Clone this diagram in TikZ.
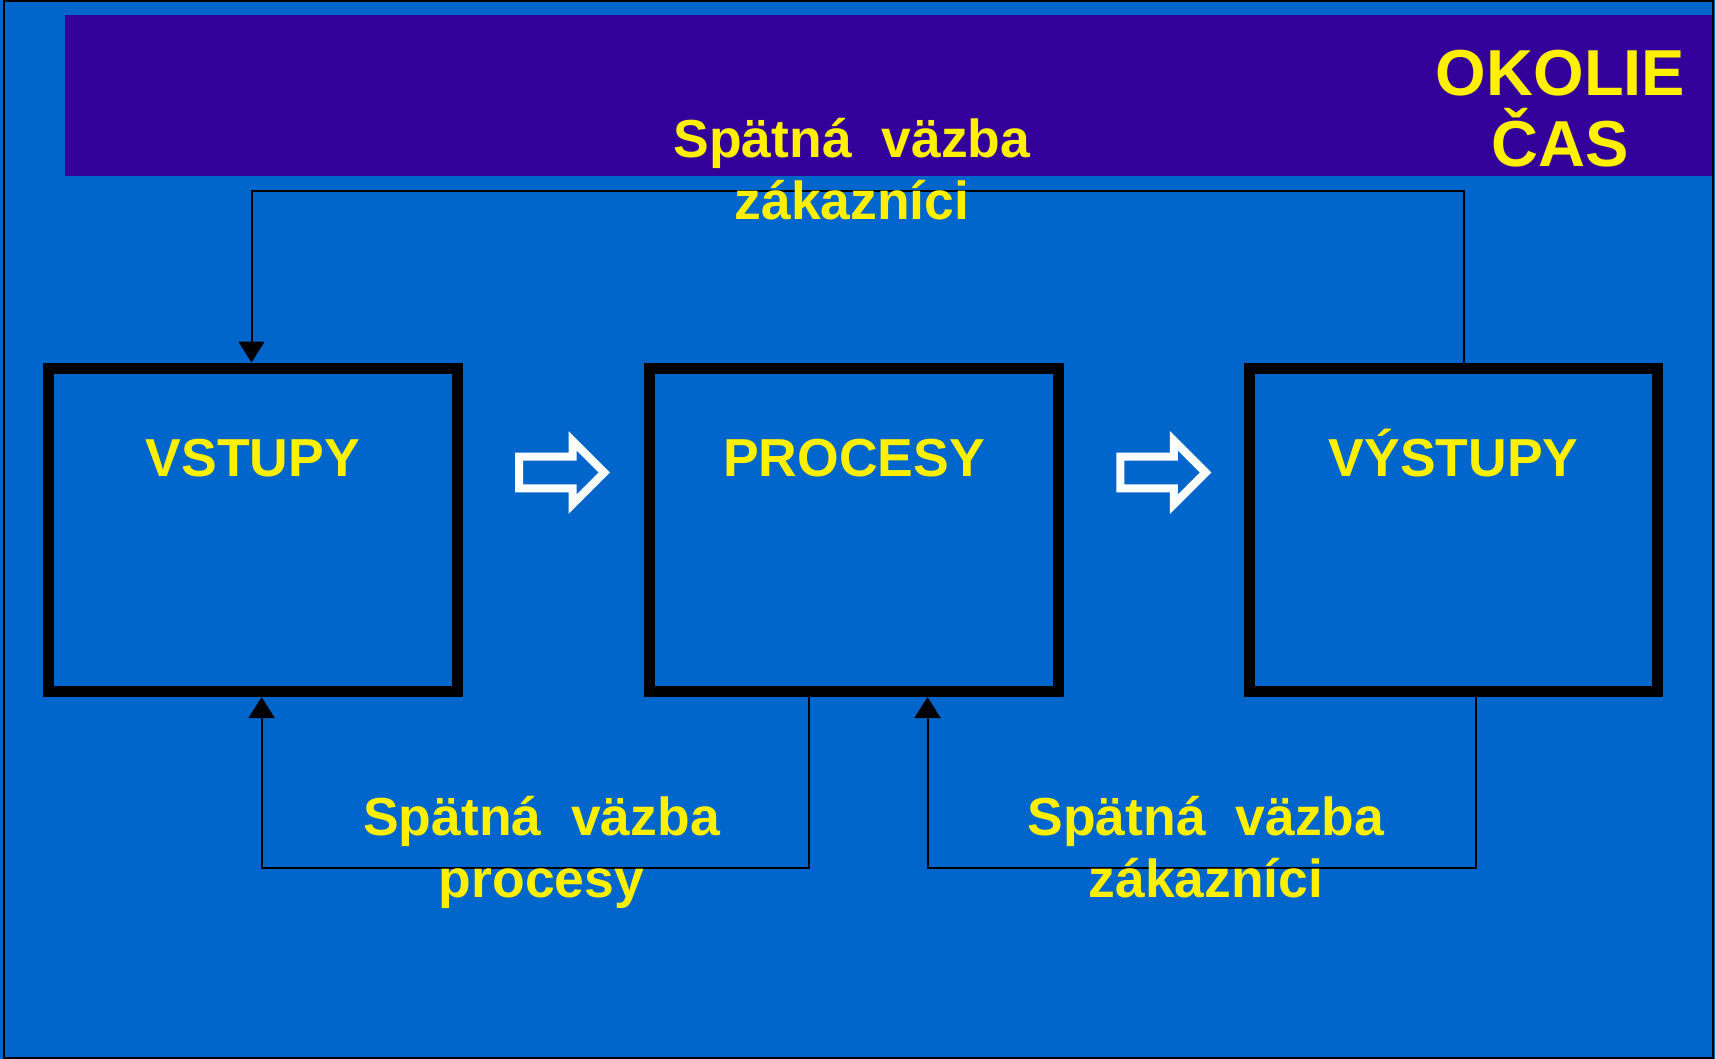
\documentclass[tikz,border=0pt]{standalone}
\usepackage{fontspec}
\setmainfont{Liberation Sans}
\usetikzlibrary{arrows.meta}
\definecolor{bgblue}{HTML}{0066CC}
\definecolor{bandpurple}{HTML}{330099}
\definecolor{txtyellow}{HTML}{FFF000}
\tikzset{
  stagebox/.style={draw=black, line width=11pt, minimum width=408.3pt, minimum height=323.5pt, inner sep=0pt},
  boxtxt/.style={text=txtyellow, font=\bfseries\fontsize{53.5}{62}\selectfont, anchor=base, inner sep=0pt},
  fbtxt/.style={text=txtyellow, font=\bfseries\fontsize{53.5}{62}\selectfont, anchor=base, inner sep=0pt, align=center},
  envtxt/.style={text=txtyellow, font=\bfseries\fontsize{65}{71}\selectfont, anchor=base, inner sep=0pt, align=center},
  fbline/.style={draw=black, line width=2pt, line join=miter, -{Triangle[length=21pt,width=26pt]}},
  hollowarrow/.style={draw=white, line width=8pt, line join=miter}
}
\begin{document}
\begin{tikzpicture}[x=1pt,y=-1pt]
\useasboundingbox (0,0) rectangle (1715,1059);
\fill[bgblue] (0,0) rectangle (1715,1059);
\fill[bandpurple] (65,15) rectangle (1712,175.7);
\draw[black, line width=2pt] (4.2,1) rectangle (1713,1058);

% stage boxes
\node[stagebox] (vstupy) at (252.85,529.75) {};
\node[stagebox] (procesy) at (854,529.75) {};
\node[stagebox] (vystupy) at (1453.75,529.75) {};

% feedback connectors
\coordinate (a1) at (1464,191);
\coordinate (a2) at (251.5,191);
\draw[fbline] (vystupy.north -| a1) -- (a1) -- (a2) -- (vstupy.north -| a2);

\coordinate (b1) at (809.4,867.7);
\coordinate (b2) at (261.6,867.7);
\draw[fbline] (procesy.south -| b1) -- (b1) -- (b2) -- (vstupy.south -| b2);

\coordinate (c1) at (1475.5,867.7);
\coordinate (c2) at (927.5,867.7);
\draw[fbline] (vystupy.south -| c1) -- (c1) -- (c2) -- (procesy.south -| c2);

% hollow arrows
\draw[hollowarrow] (519,456.7) -- (572.5,456.7) -- (572.5,440.7) -- (604.3,472.5) -- (572.5,504.3) -- (572.5,488.3) -- (519,488.3) -- cycle;
\begin{scope}[shift={(601.3,0)}]
\draw[hollowarrow] (519,456.7) -- (572.5,456.7) -- (572.5,440.7) -- (604.3,472.5) -- (572.5,504.3) -- (572.5,488.3) -- (519,488.3) -- cycle;
\end{scope}

% labels
\node[boxtxt] (tvstupy) at (252.85,476.7) {VSTUPY};
\node[boxtxt] (tprocesy) at (854,476.7) {PROCESY};
\node[boxtxt] (tvystupy) at (1453.75,476.7) {VÝSTUPY};

\node[fbtxt] (ftop) at (852,220) {Spätná\ \ väzba\\zákazníci};
\node[fbtxt] (fleft) at (541.5,897) {Spätná\ \ väzba\\procesy};
\node[fbtxt] (fright) at (1206,897) {Spätná\ \ väzba\\zákazníci};

\node[envtxt] (okolie) at (1560.5,166.7) {OKOLIE\\ČAS};
\end{tikzpicture}
\end{document}
